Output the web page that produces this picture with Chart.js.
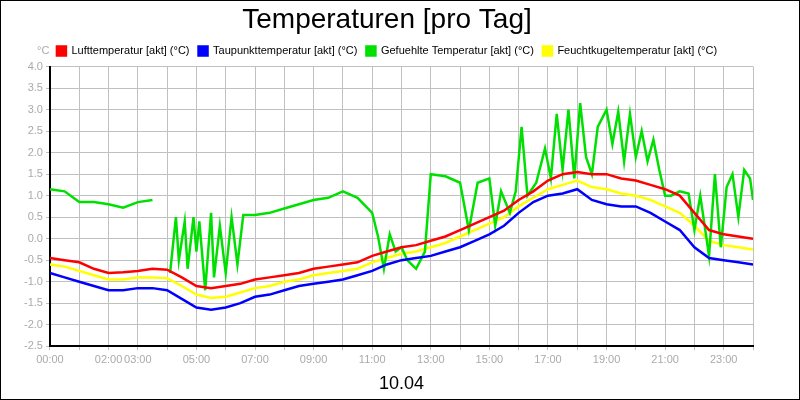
<!DOCTYPE html>
<html>
<head>
<meta charset="utf-8">
<script src="https://cdn.jsdelivr.net/npm/chart.js@4"></script>
<style>
body { margin: 0; background: #fff; }
#wrap { width: 798px; height: 398px; border: 1px solid #000; }
</style>
</head>
<body>
<div id="wrap"><canvas id="chart" width="798" height="398"></canvas></div>
<script>
const hours = [0, 0.5, 1, 1.5, 2, 2.5, 3, 3.5, 4, 4.5, 5, 5.5, 6, 6.5, 7, 7.5, 8, 8.5, 9, 9.5, 10, 10.5, 11, 11.5, 12, 12.5, 13, 13.5, 14, 14.5, 15, 15.5, 16, 16.5, 17, 17.5, 18, 18.5, 19, 19.5, 20, 20.5, 21, 21.5, 22, 22.5, 23, 23.5, 24]
const luft = [-0.45, -0.5, -0.55, -0.7, -0.8, -0.78, -0.75, -0.7, -0.72, -0.9, -1.1, -1.15, -1.1, -1.05, -0.95, -0.9, -0.85, -0.8, -0.7, -0.65, -0.6, -0.55, -0.4, -0.3, -0.2, -0.15, -0.05, 0.05, 0.2, 0.35, 0.5, 0.65, 0.9, 1.1, 1.35, 1.5, 1.55, 1.5, 1.5, 1.4, 1.35, 1.25, 1.15, 1.0, 0.6, 0.2, 0.1, 0.05, 0.0]
const taupunkt = [-0.8, -0.9, -1.0, -1.1, -1.2, -1.2, -1.15, -1.15, -1.2, -1.4, -1.6, -1.65, -1.6, -1.5, -1.35, -1.3, -1.2, -1.1, -1.05, -1.0, -0.95, -0.85, -0.75, -0.6, -0.5, -0.45, -0.4, -0.3, -0.2, -0.05, 0.1, 0.3, 0.6, 0.85, 1.0, 1.05, 1.15, 0.9, 0.8, 0.75, 0.75, 0.6, 0.4, 0.2, -0.2, -0.45, -0.5, -0.55, -0.6]
const feucht = [-0.6, -0.65, -0.75, -0.85, -0.95, -0.95, -0.9, -0.9, -0.92, -1.1, -1.3, -1.38, -1.35, -1.25, -1.15, -1.1, -1.0, -0.95, -0.85, -0.8, -0.75, -0.7, -0.55, -0.45, -0.35, -0.3, -0.2, -0.1, 0.05, 0.2, 0.35, 0.5, 0.75, 0.95, 1.15, 1.25, 1.35, 1.2, 1.15, 1.05, 1.0, 0.9, 0.75, 0.6, 0.3, -0.05, -0.15, -0.2, -0.25]
const greenHours = [0, 0.5, 1, 1.5, 2, 2.5, 3, 3.5, 3.6, 4.1, 4.3, 4.4, 4.6, 4.7, 4.9, 5.0, 5.1, 5.3, 5.5, 5.6, 5.8, 6.0, 6.2, 6.4, 6.6, 7, 7.5, 8, 8.5, 9, 9.5, 10, 10.5, 11, 11.2, 11.4, 11.6, 11.8, 12, 12.2, 12.5, 12.8, 13, 13.5, 14, 14.3, 14.6, 15, 15.2, 15.4, 15.7, 15.9, 16.1, 16.3, 16.6, 16.9, 17.1, 17.3, 17.5, 17.7, 17.9, 18.1, 18.3, 18.5, 18.7, 19, 19.2, 19.4, 19.6, 19.8, 20, 20.2, 20.4, 20.6, 20.8, 21, 21.2, 21.5, 21.8, 22, 22.2, 22.5, 22.7, 22.9, 23.1, 23.3, 23.5, 23.7, 23.9, 24]
const gefuehlt = [1.15, 1.1, 0.85, 0.85, 0.8, 0.72, 0.85, 0.9, null, -0.8, 0.5, -0.5, 0.4, -0.7, 0.5, -0.3, 0.4, -1.2, 0.6, -0.9, 0.3, -0.8, 0.5, -0.6, 0.55, 0.55, 0.6, 0.7, 0.8, 0.9, 0.95, 1.1, 0.95, 0.6, 0.05, -0.7, 0.1, -0.3, -0.2, -0.5, -0.7, -0.3, 1.5, 1.45, 1.3, 0.2, 1.3, 1.4, 0.3, 1.1, 0.6, 1.1, 2.6, 1.0, 1.3, 2.1, 1.4, 2.9, 1.6, 3.0, 1.4, 3.15, 1.9, 1.5, 2.6, 3.0, 2.2, 2.95, 1.8, 2.9, 1.9, 2.5, 1.8, 2.3, 1.6, 1.0, 1.0, 1.1, 1.05, 0.2, 1.0, -0.4, 1.5, -0.2, 1.2, 1.5, 0.5, 1.6, 1.4, 0.9]
const xTickLabels = {0: "00:00", 2: "02:00", 3: "03:00", 5: "05:00", 7: "07:00", 9: "09:00", 11: "11:00", 13: "13:00", 15: "15:00", 17: "17:00", 19: "19:00", 21: "21:00", 23: "23:00"}

const pts = (xs, ys) => xs.map((x, i) => ({x: x, y: ys[i]}))

const unitLabel = {
	id: "unitLabel",
	afterDraw: (chart) => {
		const ctx = chart.ctx
		ctx.save()
		ctx.font = "11px 'Liberation Sans'"
		ctx.fillStyle = "#aaa"
		ctx.textAlign = "left"
		ctx.fillText("°C", 36, 50)
		ctx.restore()
	}
}

const line = (label, color, data) => ({
	label: label,
	data: data,
	borderColor: color,
	backgroundColor: color,
	borderWidth: 2.5,
	pointRadius: 0,
	tension: 0,
	spanGaps: false
})

new Chart(document.getElementById("chart"), {
	type: "line",
	data: {
		datasets: [
			line("Lufttemperatur [akt] (°C)", "#ff0000", pts(hours, luft)),
			line("Taupunkttemperatur [akt] (°C)", "#0000ff", pts(hours, taupunkt)),
			line("Gefuehlte Temperatur [akt] (°C)", "#00e000", pts(greenHours, gefuehlt)),
			line("Feuchtkugeltemperatur [akt] (°C)", "#ffff00", pts(hours, feucht))
		]
	},
	options: {
		responsive: false,
		animation: false,
		layout: {padding: {right: 46, left: 20, top: 0}},
		plugins: {
			title: {display: true, text: "Temperaturen [pro Tag]", color: "#000",
				font: {family: "Liberation Sans", size: 28, weight: "normal"}, padding: {top: 2, bottom: 0}},
			legend: {labels: {boxWidth: 9, boxHeight: 9, color: "#000", padding: 9,
				font: {family: "Liberation Sans", size: 11}}},
			tooltip: {enabled: false}
		},
		scales: {
			x: {
				type: "linear", min: 0, max: 24,
				grid: {color: "#c0c0c0", drawTicks: true, tickLength: 4},
				border: {color: "#000", width: 2},
				ticks: {stepSize: 1, autoSkip: false, maxRotation: 0, color: "#aaa",
					font: {family: "Liberation Sans", size: 11},
					callback: (v) => xTickLabels[v] || ""},
				title: {display: true, text: "10.04", color: "#000",
					font: {family: "Liberation Sans", size: 18}, padding: {top: 4}}
			},
			y: {
				min: -2.5, max: 4.0,
				grid: {color: "#c0c0c0", tickLength: 4},
				border: {color: "#000", width: 2},
				ticks: {stepSize: 0.5, color: "#aaa", font: {family: "Liberation Sans", size: 11},
					callback: (v) => v.toFixed(1)}
			}
		}
	},
	plugins: [unitLabel]
})
</script>
</body>
</html>
